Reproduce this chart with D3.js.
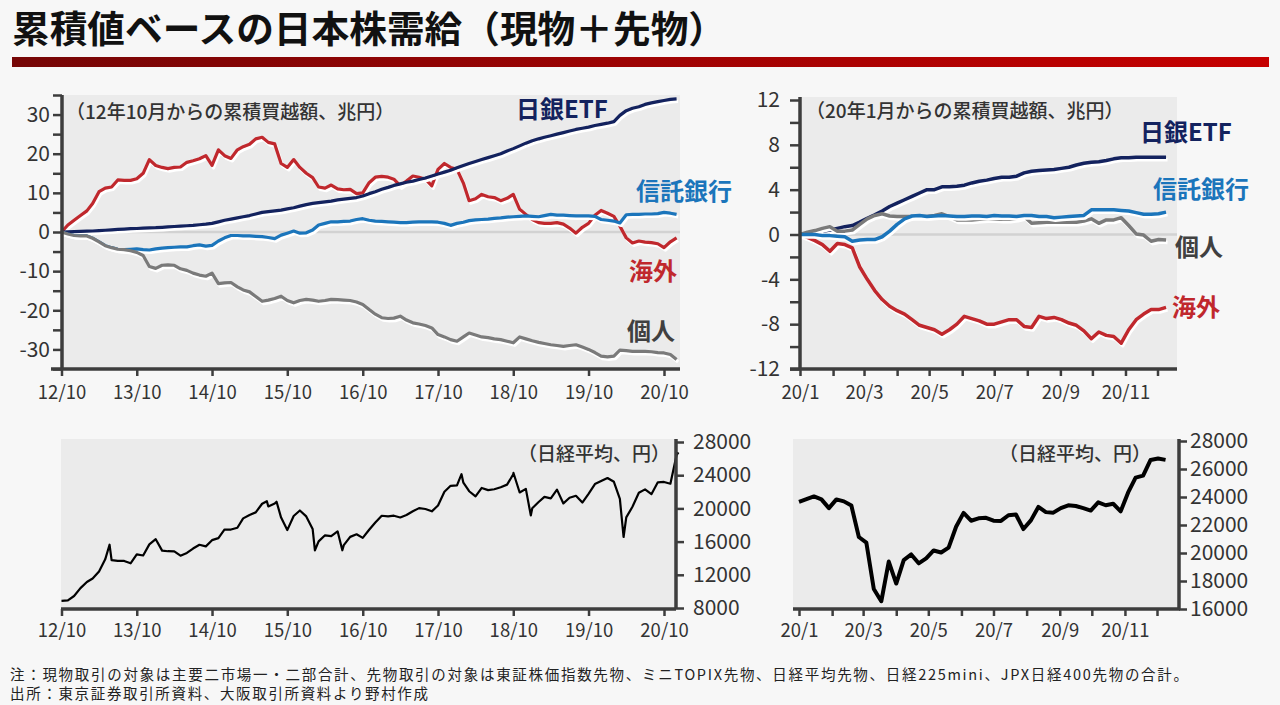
<!DOCTYPE html>
<html>
<head>
<meta charset="utf-8">
<script src="https://cdn.jsdelivr.net/npm/d3@7"></script>
<style>
body { margin:0; background:#f7f7f7; }
svg text { font-family:"Noto Sans CJK JP", "Noto Sans", sans-serif; }
.title { font-size:37px; font-weight:700; fill:#111; }
.note { font-size:19px; font-weight:500; fill:#333; }
.lab { font-size:24px; font-weight:700; }
.foot { font-size:14.5px; fill:#222; }
</style>
</head>
<body>
<svg id="chart" width="1280" height="705"></svg>
<script>
// 12年10月からの累積買越額（兆円）、月初の値
var bojM = [0,0.05,0.1,0.15,0.2,0.25,0.35,0.45,0.55,0.65,
  0.75,0.85,0.9,1.0,1.05,1.1,1.2,1.3,1.4,1.5,
  1.6,1.7,1.85,2.0,2.2,2.6,3.0,3.3,3.6,3.9,
  4.2,4.6,5.0,5.2,5.4,5.6,5.9,6.2,6.6,7.0,
  7.3,7.5,7.7,7.9,8.2,8.4,8.6,8.8,9.2,9.8,
  10.3,10.9,11.4,11.9,12.3,12.7,13.0,13.4,13.8,14.3,
  14.8,15.3,15.8,16.4,17.0,17.5,18.0,18.5,19.0,19.5,
  20.0,20.7,21.3,22.0,22.7,23.3,23.8,24.2,24.6,25.0,
  25.4,25.8,26.2,26.5,26.8,27.2,27.5,27.8,28.2,29.8,
  31.0,31.6,32.0,32.6,33.0,33.3,33.6,33.9,34.0];
var trustM = [0,-0.5,-0.9,-1.0,-1.0,-1.6,-2.5,-3.5,-4.0,-4.4,
  -4.5,-4.4,-4.3,-4.5,-4.6,-4.3,-4.1,-4.0,-3.9,-3.8,
  -3.8,-3.5,-3.3,-3.6,-3.4,-2.3,-1.5,-0.9,-0.9,-1.0,
  -1.0,-1.1,-1.2,-1.4,-1.7,-0.8,-0.3,0.25,-0.3,-0.2,
  0.5,1.8,2.2,2.6,2.6,2.7,2.8,3.2,3.4,3.0,
  2.8,2.7,2.6,2.5,2.4,2.4,2.5,2.6,2.6,2.6,
  2.5,2.2,1.7,2.2,2.5,2.9,3.1,3.2,3.3,3.5,
  3.6,3.8,3.9,4.0,4.1,4.0,3.9,4.2,4.5,4.3,
  4.3,4.2,4.1,4.1,4.1,4.0,3.2,3.0,2.8,2.3,
  4.4,4.5,4.5,4.6,4.6,4.7,5.0,4.8,4.5];
var foreignM = [0,1.8,3.0,4.2,5.4,7.3,10.3,11.2,11.5,13.3,
  13.2,13.2,13.6,15.0,18.5,17.0,16.5,16.2,16.5,16.6,
  17.8,18.2,18.7,19.5,17.0,21.0,19.5,18.8,21.0,21.8,
  22.4,23.8,24.2,22.9,22.5,17.5,16.5,18.5,16.5,15.0,
  13.9,11.5,11.2,12.0,11.0,10.8,10.9,9.8,10.0,12.6,
  14.0,14.2,14.0,13.5,11.8,13.0,14.3,14.0,13.5,11.8,
  16.0,17.5,16.5,16.0,12.5,8.0,8.5,9.6,9.0,8.8,
  8.0,8.6,9.6,5.8,4.5,3.2,2.4,2.2,2.2,2.4,
  2.0,1.0,-0.3,1.2,2.2,4.3,5.5,4.8,4.0,1.5,
  -1.5,-2.8,-2.3,-2.6,-2.7,-3.0,-4.0,-2.5,-1.5];
var indivM = [0,-0.5,-0.9,-1.0,-1.0,-1.6,-2.5,-3.5,-4.0,-4.4,
  -4.5,-4.8,-5.2,-6.0,-8.8,-9.3,-8.5,-8.4,-8.5,-9.4,
  -9.8,-10.5,-11.0,-11.3,-10.5,-13.2,-13.0,-12.9,-14.0,-14.8,
  -15.3,-16.5,-17.7,-17.4,-17.0,-16.4,-17.5,-18.1,-17.5,-17.2,
  -17.4,-17.7,-17.5,-17.2,-17.3,-17.4,-17.5,-17.9,-18.5,-19.8,
  -21.0,-21.9,-22.1,-22.0,-21.5,-22.5,-23.2,-23.5,-23.9,-24.5,
  -26.2,-26.8,-27.5,-27.9,-26.8,-25.8,-26.3,-26.8,-27.0,-27.3,
  -27.5,-27.9,-28.3,-26.8,-27.3,-27.8,-28.2,-28.5,-28.8,-29.0,
  -29.2,-29.0,-28.8,-29.4,-30.0,-30.8,-31.7,-31.9,-31.7,-30.2,
  -30.3,-30.5,-30.5,-30.5,-30.6,-30.8,-30.9,-31.3,-32.6];
// 日経平均（円）、月初の値
var nikkeiM = [8870,8928,9446,10395,11139,11559,12398,13861,13775,13677,
  13668,13389,14456,14328,15662,16291,14915,14841,14828,14304,
  14632,15162,15621,15425,16174,16414,17460,17451,17674,18798,
  19207,19520,20563,20236,20585,18890,17388,19083,19747,19034,
  17518,16027,16759,16666,17235,15576,16569,16887,16450,17425,
  18308,19114,19041,19119,18909,19197,19651,20033,19925,19646,
  20356,22012,22725,22765,23098,22068,21454,22468,22202,22305,
  22554,22865,24120,21920,22351,20015,20773,21385,21206,22259,
  20601,21276,21522,20704,21756,22927,23294,23657,23205,21143,
  18917,20194,21878,22288,21710,23140,23185,22977,26434];
// 月の途中の高値・安値
var nikkeiExtraDates = ["2013-05-22","2015-06-24","2015-08-10","2016-02-12","2016-06-24",
  "2018-01-23","2018-10-02","2018-12-25","2020-03-19","2020-12-10"];
var nikkeiExtraValues = [15627,20868,20808,14953,14952,24124,24270,19155,16553,26756];

// 20年1月からの累積買越額（兆円）、週次
var boj20 = [0,0.1,0.2,0.28,0.4,0.55,0.7,0.8,1.1,1.45,
  1.75,2.1,2.5,2.8,3.1,3.4,3.7,4.0,4.0,4.25,
  4.25,4.3,4.4,4.6,4.75,4.85,5.0,5.1,5.1,5.2,
  5.5,5.65,5.7,5.75,5.8,5.9,6.0,6.2,6.35,6.45,
  6.5,6.6,6.75,6.85,6.85,6.9,6.9,6.9,6.9,6.9];
var trust20 = [0,0,0,-0.1,-0.1,-0.15,-0.2,-0.6,-0.5,-0.45,
  -0.45,-0.2,0.3,0.9,1.4,1.65,1.7,1.6,1.65,1.7,
  1.65,1.6,1.6,1.65,1.65,1.6,1.7,1.65,1.65,1.6,
  1.7,1.7,1.6,1.6,1.5,1.55,1.6,1.65,1.7,2.2,
  2.2,2.2,2.2,2.15,2.1,1.95,1.8,1.8,1.85,2.0];
var indiv20 = [0,0.2,0.35,0.55,0.7,0.3,0.3,0.4,0.9,1.4,
  1.7,1.85,1.65,1.6,1.6,1.6,1.6,1.6,1.7,1.85,
  1.6,1.3,1.3,1.3,1.35,1.4,1.4,1.35,1.35,1.45,
  1.6,1.0,1.05,1.1,1.1,1.1,1.1,1.1,1.2,1.4,
  1.0,1.3,1.3,1.5,0.8,0.05,-0.05,-0.6,-0.45,-0.5];
var foreign20 = [0,-0.25,-0.55,-0.9,-1.5,-0.8,-0.9,-1.2,-2.9,-4.0,
  -5.0,-5.8,-6.4,-6.8,-7.1,-7.6,-8.1,-8.3,-8.5,-8.9,
  -8.5,-8.0,-7.3,-7.5,-7.7,-8.0,-8.0,-7.8,-7.6,-7.6,
  -8.2,-8.3,-7.3,-7.5,-7.4,-7.6,-7.9,-8.1,-8.6,-9.3,
  -8.7,-9.0,-9.1,-9.7,-8.5,-7.6,-7.1,-6.7,-6.7,-6.5];
var nikkei20 = [23656,23850,24041,23827,23205,23828,23688,23387,21142,20749,
  17431,16552,19389,17820,19498,19897,19262,19619,20179,20037,
  20388,21877,22863,22305,22478,22512,22306,22290,22696,22751,
  21710,22329,23289,22920,22882,23205,23406,23360,23204,23029,
  23619,23410,23516,22977,24325,25385,25527,26644,26751,26652];

var months = d3.timeMonth.range(new Date(2012, 9, 1), new Date(2021, 0, 1));
var weeks = d3.timeWednesday.range(new Date(2020, 0, 1), new Date(2020, 11, 10));
var yearTicks = d3.range(2012, 2021).map(function(y){ return new Date(y, 9, 1); });
var monthTicks = d3.timeMonth.range(new Date(2020, 0, 1), new Date(2020, 11, 2));

var navy = "#13225e", blue = "#1b75bb", red = "#c0282d", grey = "#7a7a7a";
var axisCol = "#3d3d3d";

var svg = d3.select("#chart");

// タイトルと赤い帯
svg.append("text").attr("class","title")
  .attr("x", 12).attr("y", 43)
  .attr("textLength", 714).attr("lengthAdjust", "spacingAndGlyphs")
  .text("累積値ベースの日本株需給（現物＋先物）");

var grad = svg.append("defs").append("linearGradient").attr("id", "redbar");
grad.append("stop").attr("offset", "0%").attr("stop-color", "#760606");
grad.append("stop").attr("offset", "100%").attr("stop-color", "#c60000");
svg.append("rect").attr("x", 12).attr("y", 57).attr("width", 1257).attr("height", 10)
  .style("fill", "url(#redbar)");

function ymLabel(d) { return (d.getFullYear() % 100) + "/" + (d.getMonth() + 1); }

function addLine(dates, values, x, y, color, w) {
  var pts = d3.zip(dates, values);
  var line = d3.line()
    .x(function(d) { return x(d[0]); })
    .y(function(d) { return y(d[1]); });
  svg.append("path").datum(pts).attr("d", line)
    .attr("transform", "translate(1.5,2.5)")
    .style("fill", "none").style("stroke", "#fff").style("stroke-width", w)
    .style("stroke-linejoin", "round");
  svg.append("path").datum(pts).attr("d", line)
    .style("fill", "none").style("stroke", color).style("stroke-width", w)
    .style("stroke-linejoin", "round");
}

function styleAxis(g, fontSize) {
  g.select(".domain").remove();
  g.attr("font-family", "DejaVu Sans, sans-serif").attr("font-size", fontSize);
  g.selectAll(".tick line").style("stroke", axisCol).style("stroke-width", 2.5);
  g.selectAll(".tick text").style("fill", "#333");
}

function axisLine(x1, y1, x2, y2) {
  svg.append("line").attr("x1", x1).attr("y1", y1).attr("x2", x2).attr("y2", y2)
    .style("stroke", axisCol).style("stroke-width", 3.5);
}

function addText(x, y, cls, color, txt) {
  svg.append("text").attr("class", cls).attr("x", x).attr("y", y)
    .style("fill", color).text(txt);
}

//================ 左上：12年10月から
var x1 = d3.scaleTime().domain([new Date(2012, 9, 1), new Date(2020, 9, 1)]).range([61.5, 664]);
var y1 = d3.scaleLinear().domain([-35, 35]).range([369, 95]);

svg.append("rect").attr("x", 62).attr("y", 95).attr("width", 618).attr("height", 274).style("fill", "#ebebeb");
svg.append("line").attr("x1", 62).attr("x2", 680).attr("y1", y1(0)).attr("y2", y1(0))
  .style("stroke", "#d2d2d2").style("stroke-width", 2.5);

addLine(months, foreignM, x1, y1, red, 3.2);
addLine(months, bojM, x1, y1, navy, 3.2);
addLine(months, trustM, x1, y1, blue, 3.2);
addLine(months, indivM, x1, y1, grey, 3.2);

var g = svg.append("g").attr("transform", "translate(62,0)")
  .call(d3.axisLeft(y1).tickValues(d3.range(-35, 36, 5)).tickSize(9).tickPadding(3)
    .tickFormat(function(d) { return d % 10 === 0 ? d : ""; }));
styleAxis(g, 21);
axisLine(62, 95, 62, 369);

g = svg.append("g").attr("transform", "translate(0,369)")
  .call(d3.axisBottom(x1).tickValues(yearTicks).tickSize(7).tickPadding(10).tickFormat(ymLabel));
styleAxis(g, 18.5);
axisLine(51, 369, 680, 369);

addText(66, 119, "note", "#333", "（12年10月からの累積買越額、兆円）");
addText(516, 118, "lab", navy, "日銀ETF");
addText(636, 200, "lab", blue, "信託銀行");
addText(629, 280, "lab", red, "海外");
addText(627, 340, "lab", "#404040", "個人");

//================ 右上：20年1月から
var x2 = d3.scaleTime().domain([new Date(2020, 0, 1), new Date(2020, 11, 1)]).range([800, 1157.5]);
var y2 = d3.scaleLinear().domain([-12, 12]).range([369, 100]);

svg.append("rect").attr("x", 800).attr("y", 97).attr("width", 377).attr("height", 272).style("fill", "#ebebeb");
svg.append("line").attr("x1", 800).attr("x2", 1177).attr("y1", y2(0)).attr("y2", y2(0))
  .style("stroke", "#d2d2d2").style("stroke-width", 2.5);

addLine(weeks, foreign20, x2, y2, red, 3.5);
addLine(weeks, boj20, x2, y2, navy, 3.5);
addLine(weeks, indiv20, x2, y2, grey, 3.5);
addLine(weeks, trust20, x2, y2, blue, 3.5);

g = svg.append("g").attr("transform", "translate(800,0)")
  .call(d3.axisLeft(y2).tickValues(d3.range(-12, 13, 2)).tickSize(10).tickPadding(10)
    .tickFormat(function(d) { return d % 4 === 0 ? d : ""; }));
styleAxis(g, 21);
axisLine(800, 97, 800, 369);

g = svg.append("g").attr("transform", "translate(0,369)")
  .call(d3.axisBottom(x2).tickValues(monthTicks).tickSize(7).tickPadding(10)
    .tickFormat(function(d) { return d.getMonth() % 2 === 0 ? ymLabel(d) : ""; }));
styleAxis(g, 18.5);
axisLine(790, 369, 1177, 369);

addText(806, 118, "note", "#333", "（20年1月からの累積買越額、兆円）");
addText(1140, 141, "lab", navy, "日銀ETF");
addText(1153, 198, "lab", blue, "信託銀行");
addText(1175, 256, "lab", "#404040", "個人");
addText(1172, 316, "lab", red, "海外");

//================ 左下：日経平均（12年10月から）
var y3 = d3.scaleLinear().domain([8000, 28000]).range([608, 442]);
var nkDates = months.concat(nikkeiExtraDates.map(function(s) { return d3.timeParse("%Y-%m-%d")(s); }));
var nkValues = nikkeiM.concat(nikkeiExtraValues);
var order = d3.range(nkDates.length).sort(function(a, b) { return nkDates[a] - nkDates[b]; });

svg.append("rect").attr("x", 61).attr("y", 439).attr("width", 615).attr("height", 170).style("fill", "#ebebeb");
svg.append("path")
  .datum(order)
  .attr("d", d3.line()
    .x(function(i) { return x1(nkDates[i]); })
    .y(function(i) { return y3(nkValues[i]); }))
  .style("fill", "none").style("stroke", "#000").style("stroke-width", 2.2)
  .style("stroke-linejoin", "round");

g = svg.append("g").attr("transform", "translate(676,0)")
  .call(d3.axisRight(y3).tickValues(d3.range(8000, 28001, 4000)).tickSize(8).tickPadding(9)
    .tickFormat(d3.format("d")));
styleAxis(g, 21);
axisLine(676, 439, 676, 609);

g = svg.append("g").attr("transform", "translate(0,609)")
  .call(d3.axisBottom(x1).tickValues(yearTicks).tickSize(7).tickPadding(8).tickFormat(ymLabel));
styleAxis(g, 18.5);
axisLine(61, 609, 676, 609);

addText(518, 461, "note", "#333", "（日経平均、円）");

//================ 右下：日経平均（20年1月から）
var x4 = d3.scaleTime().domain([new Date(2020, 0, 1), new Date(2020, 11, 1)]).range([799, 1157]);
var y4 = d3.scaleLinear().domain([16000, 28000]).range([609, 441]);

svg.append("rect").attr("x", 793).attr("y", 439).attr("width", 387).attr("height", 170).style("fill", "#ebebeb");
svg.append("path")
  .datum(d3.zip(weeks, nikkei20))
  .attr("d", d3.line()
    .x(function(d) { return x4(d[0]); })
    .y(function(d) { return y4(d[1]); }))
  .style("fill", "none").style("stroke", "#000").style("stroke-width", 4)
  .style("stroke-linejoin", "round");

g = svg.append("g").attr("transform", "translate(1179,0)")
  .call(d3.axisRight(y4).tickValues(d3.range(16000, 28001, 2000)).tickSize(8).tickPadding(3)
    .tickFormat(d3.format("d")));
styleAxis(g, 21);
axisLine(1179, 439, 1179, 609);

g = svg.append("g").attr("transform", "translate(0,609)")
  .call(d3.axisBottom(x4).tickValues(monthTicks).tickSize(7).tickPadding(8)
    .tickFormat(function(d) { return d.getMonth() % 2 === 0 ? ymLabel(d) : ""; }));
styleAxis(g, 18.5);
axisLine(793, 609, 1180, 609);

addText(999, 461, "note", "#333", "（日経平均、円）");

//================ 注・出所
svg.append("text").attr("class", "foot").attr("x", 10).attr("y", 680)
  .attr("textLength", 1178).attr("lengthAdjust", "spacing")
  .text("注：現物取引の対象は主要二市場一・二部合計、先物取引の対象は東証株価指数先物、ミニTOPIX先物、日経平均先物、日経225mini、JPX日経400先物の合計。");
svg.append("text").attr("class", "foot").attr("x", 10).attr("y", 699)
  .attr("textLength", 418).attr("lengthAdjust", "spacing")
  .text("出所：東京証券取引所資料、大阪取引所資料より野村作成");
</script>
</body>
</html>
